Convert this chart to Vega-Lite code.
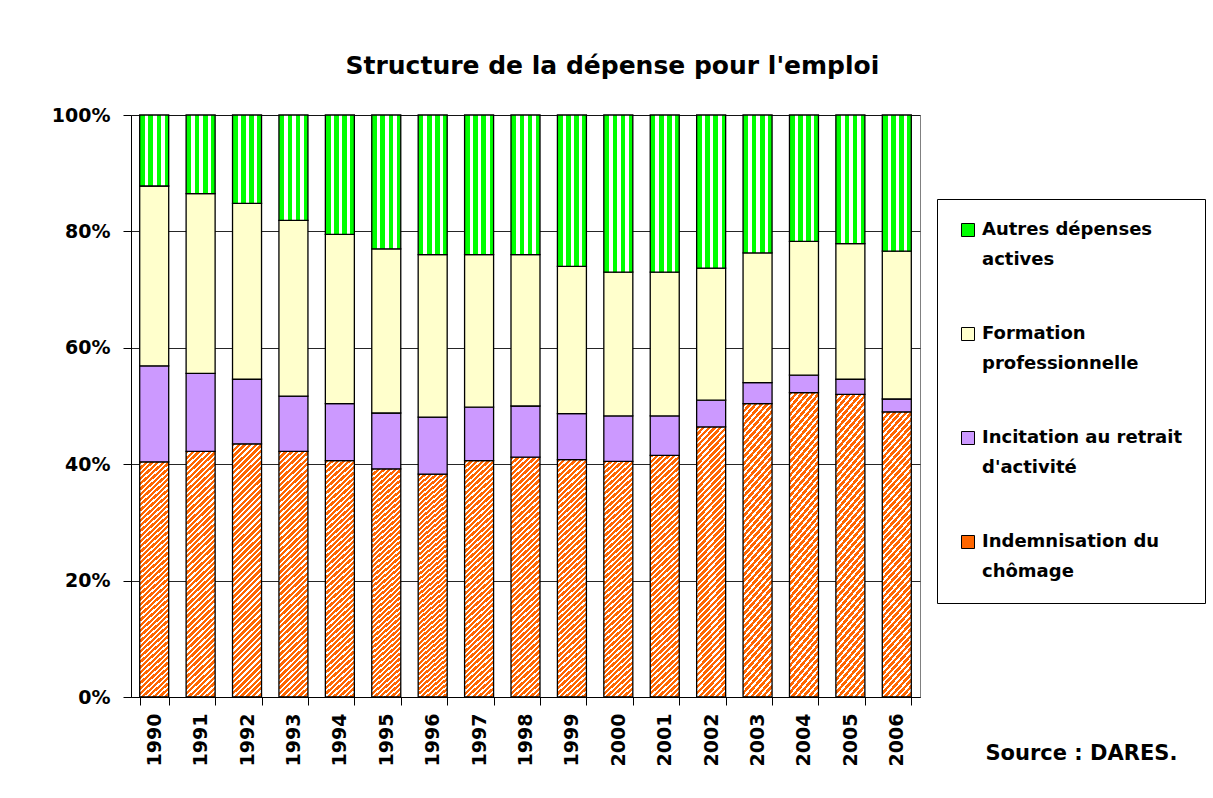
{
  "$schema": "https://vega.github.io/schema/vega-lite/v6.json",
  "width": 789,
  "height": 582,
  "padding": {"left": 51, "top": 54, "right": 5, "bottom": 5},
  "background": "white",
  "title": {
    "text": "Structure de la dépense pour l'emploi",
    "font": "DejaVu Sans",
    "fontSize": 25,
    "fontWeight": "bold",
    "color": "#000",
    "anchor": "middle",
    "frame": "bounds",
    "dx": -16,
    "offset": 27
  },
  "config": {
    "view": {"stroke": "#808080", "strokeWidth": 1},
    "axis": {"labelFont": "DejaVu Sans", "labelFontWeight": "bold", "labelColor": "#000", "domainColor": "#000", "tickColor": "#000", "domainWidth": 1, "tickWidth": 1}
  },
  "data": {
    "values": [
      {"year": "1990", "cat": "Indemnisation du chômage", "v": 40.4},
      {"year": "1990", "cat": "Incitation au retrait d'activité", "v": 16.5},
      {"year": "1990", "cat": "Formation professionnelle", "v": 30.9},
      {"year": "1990", "cat": "Autres dépenses actives", "v": 12.2},
      {"year": "1991", "cat": "Indemnisation du chômage", "v": 42.2},
      {"year": "1991", "cat": "Incitation au retrait d'activité", "v": 13.4},
      {"year": "1991", "cat": "Formation professionnelle", "v": 30.9},
      {"year": "1991", "cat": "Autres dépenses actives", "v": 13.5},
      {"year": "1992", "cat": "Indemnisation du chômage", "v": 43.5},
      {"year": "1992", "cat": "Incitation au retrait d'activité", "v": 11.1},
      {"year": "1992", "cat": "Formation professionnelle", "v": 30.2},
      {"year": "1992", "cat": "Autres dépenses actives", "v": 15.2},
      {"year": "1993", "cat": "Indemnisation du chômage", "v": 42.2},
      {"year": "1993", "cat": "Incitation au retrait d'activité", "v": 9.5},
      {"year": "1993", "cat": "Formation professionnelle", "v": 30.2},
      {"year": "1993", "cat": "Autres dépenses actives", "v": 18.1},
      {"year": "1994", "cat": "Indemnisation du chômage", "v": 40.6},
      {"year": "1994", "cat": "Incitation au retrait d'activité", "v": 9.8},
      {"year": "1994", "cat": "Formation professionnelle", "v": 29.1},
      {"year": "1994", "cat": "Autres dépenses actives", "v": 20.5},
      {"year": "1995", "cat": "Indemnisation du chômage", "v": 39.2},
      {"year": "1995", "cat": "Incitation au retrait d'activité", "v": 9.6},
      {"year": "1995", "cat": "Formation professionnelle", "v": 28.2},
      {"year": "1995", "cat": "Autres dépenses actives", "v": 23.0},
      {"year": "1996", "cat": "Indemnisation du chômage", "v": 38.3},
      {"year": "1996", "cat": "Incitation au retrait d'activité", "v": 9.8},
      {"year": "1996", "cat": "Formation professionnelle", "v": 27.9},
      {"year": "1996", "cat": "Autres dépenses actives", "v": 24.0},
      {"year": "1997", "cat": "Indemnisation du chômage", "v": 40.6},
      {"year": "1997", "cat": "Incitation au retrait d'activité", "v": 9.2},
      {"year": "1997", "cat": "Formation professionnelle", "v": 26.2},
      {"year": "1997", "cat": "Autres dépenses actives", "v": 24.0},
      {"year": "1998", "cat": "Indemnisation du chômage", "v": 41.2},
      {"year": "1998", "cat": "Incitation au retrait d'activité", "v": 8.8},
      {"year": "1998", "cat": "Formation professionnelle", "v": 26.0},
      {"year": "1998", "cat": "Autres dépenses actives", "v": 24.0},
      {"year": "1999", "cat": "Indemnisation du chômage", "v": 40.8},
      {"year": "1999", "cat": "Incitation au retrait d'activité", "v": 7.9},
      {"year": "1999", "cat": "Formation professionnelle", "v": 25.3},
      {"year": "1999", "cat": "Autres dépenses actives", "v": 26.0},
      {"year": "2000", "cat": "Indemnisation du chômage", "v": 40.5},
      {"year": "2000", "cat": "Incitation au retrait d'activité", "v": 7.8},
      {"year": "2000", "cat": "Formation professionnelle", "v": 24.7},
      {"year": "2000", "cat": "Autres dépenses actives", "v": 27.0},
      {"year": "2001", "cat": "Indemnisation du chômage", "v": 41.5},
      {"year": "2001", "cat": "Incitation au retrait d'activité", "v": 6.8},
      {"year": "2001", "cat": "Formation professionnelle", "v": 24.7},
      {"year": "2001", "cat": "Autres dépenses actives", "v": 27.0},
      {"year": "2002", "cat": "Indemnisation du chômage", "v": 46.4},
      {"year": "2002", "cat": "Incitation au retrait d'activité", "v": 4.6},
      {"year": "2002", "cat": "Formation professionnelle", "v": 22.7},
      {"year": "2002", "cat": "Autres dépenses actives", "v": 26.3},
      {"year": "2003", "cat": "Indemnisation du chômage", "v": 50.4},
      {"year": "2003", "cat": "Incitation au retrait d'activité", "v": 3.6},
      {"year": "2003", "cat": "Formation professionnelle", "v": 22.3},
      {"year": "2003", "cat": "Autres dépenses actives", "v": 23.7},
      {"year": "2004", "cat": "Indemnisation du chômage", "v": 52.3},
      {"year": "2004", "cat": "Incitation au retrait d'activité", "v": 3.0},
      {"year": "2004", "cat": "Formation professionnelle", "v": 23.0},
      {"year": "2004", "cat": "Autres dépenses actives", "v": 21.7},
      {"year": "2005", "cat": "Indemnisation du chômage", "v": 52.0},
      {"year": "2005", "cat": "Incitation au retrait d'activité", "v": 2.6},
      {"year": "2005", "cat": "Formation professionnelle", "v": 23.3},
      {"year": "2005", "cat": "Autres dépenses actives", "v": 22.1},
      {"year": "2006", "cat": "Indemnisation du chômage", "v": 49.0},
      {"year": "2006", "cat": "Incitation au retrait d'activité", "v": 2.2},
      {"year": "2006", "cat": "Formation professionnelle", "v": 25.4},
      {"year": "2006", "cat": "Autres dépenses actives", "v": 23.4}
    ]
  },
  "mark": {"type": "bar", "stroke": "#000", "strokeWidth": 1.3},
  "encoding": {
    "x": {
      "field": "year",
      "type": "ordinal",
      "scale": {"paddingInner": 0.375, "paddingOuter": 0.1875},
      "axis": {
        "labelAngle": -90,
        "labelFontSize": 19,
        "labelPadding": 8,
        "tickSize": 8,
        "tickBand": "extent",
        "title": "Source : DARES.",
        "titleX": 854,
        "titleY": 62,
        "titleAlign": "left",
        "titleAnchor": "start",
        "titleBaseline": "alphabetic",
        "titleFont": "DejaVu Sans",
        "titleFontSize": 21,
        "titleFontWeight": "bold",
        "titleColor": "#000"
      }
    },
    "y": {
      "field": "v",
      "type": "quantitative",
      "stack": "normalize",
      "scale": {"domain": [0, 1], "nice": false},
      "axis": {
        "values": [0, 0.2, 0.4, 0.6, 0.8, 1],
        "format": ".0%",
        "title": null,
        "grid": true,
        "gridColor": "#000",
        "gridOpacity": 0.85,
        "tickSize": 8,
        "labelFontSize": 19,
        "labelPadding": 13
      }
    },
    "order": {"field": "cat", "sort": "descending"},
    "fill": {
      "field": "cat",
      "type": "nominal",
      "scale": {
        "domain": ["Autres dépenses actives", "Formation professionnelle", "Incitation au retrait d'activité", "Indemnisation du chômage"],
        "range": ["#00ff00", "#ffffcc", "#cc99ff", "#ff6600"]
      },
      "legend": {
        "title": null,
        "orient": "none",
        "legendX": 806,
        "legendY": 84,
        "strokeColor": "#000",
        "fillColor": "#fff",
        "padding": 22,
        "symbolType": "square",
        "symbolSize": 169,
        "symbolStrokeColor": "#000",
        "symbolStrokeWidth": 1,
        "labelFont": "DejaVu Sans",
        "labelFontWeight": "bold",
        "labelFontSize": 18,
        "labelColor": "#000",
        "labelLimit": 400,
        "labelOffset": 5,
        "labelBaseline": "middle",
        "rowPadding": 56,
        "encode": {"labels": {"update": {"lineHeight": {"value": 30}}}},
        "labelExpr": "datum.label == 'Autres dépenses actives' ? ['Autres dépenses', 'actives'] : datum.label == 'Formation professionnelle' ? ['Formation', 'professionnelle'] : datum.label == \"Incitation au retrait d'activité\" ? ['Incitation au retrait', \"d'activité\"] : ['Indemnisation du', 'chômage']"
      },
      "condition": [
        {
          "test": "datum.cat === 'Indemnisation du chômage'",
          "value": {
            "gradient": "linear", "x1": 0, "y1": 0, "x2": 0.125, "y2": 1.1,
            "stops": [
              {"offset": 0, "color": "#f60"}, {"offset": 0.012, "color": "#f60"}, {"offset": 0.012, "color": "#fff"}, {"offset": 0.02, "color": "#fff"},
              {"offset": 0.02, "color": "#f60"}, {"offset": 0.032, "color": "#f60"}, {"offset": 0.032, "color": "#fff"}, {"offset": 0.04, "color": "#fff"},
              {"offset": 0.04, "color": "#f60"}, {"offset": 0.052, "color": "#f60"}, {"offset": 0.052, "color": "#fff"}, {"offset": 0.06, "color": "#fff"},
              {"offset": 0.06, "color": "#f60"}, {"offset": 0.072, "color": "#f60"}, {"offset": 0.072, "color": "#fff"}, {"offset": 0.08, "color": "#fff"},
              {"offset": 0.08, "color": "#f60"}, {"offset": 0.092, "color": "#f60"}, {"offset": 0.092, "color": "#fff"}, {"offset": 0.1, "color": "#fff"},
              {"offset": 0.1, "color": "#f60"}, {"offset": 0.112, "color": "#f60"}, {"offset": 0.112, "color": "#fff"}, {"offset": 0.12, "color": "#fff"},
              {"offset": 0.12, "color": "#f60"}, {"offset": 0.132, "color": "#f60"}, {"offset": 0.132, "color": "#fff"}, {"offset": 0.14, "color": "#fff"},
              {"offset": 0.14, "color": "#f60"}, {"offset": 0.152, "color": "#f60"}, {"offset": 0.152, "color": "#fff"}, {"offset": 0.16, "color": "#fff"},
              {"offset": 0.16, "color": "#f60"}, {"offset": 0.172, "color": "#f60"}, {"offset": 0.172, "color": "#fff"}, {"offset": 0.18, "color": "#fff"},
              {"offset": 0.18, "color": "#f60"}, {"offset": 0.192, "color": "#f60"}, {"offset": 0.192, "color": "#fff"}, {"offset": 0.2, "color": "#fff"},
              {"offset": 0.2, "color": "#f60"}, {"offset": 0.212, "color": "#f60"}, {"offset": 0.212, "color": "#fff"}, {"offset": 0.22, "color": "#fff"},
              {"offset": 0.22, "color": "#f60"}, {"offset": 0.232, "color": "#f60"}, {"offset": 0.232, "color": "#fff"}, {"offset": 0.24, "color": "#fff"},
              {"offset": 0.24, "color": "#f60"}, {"offset": 0.252, "color": "#f60"}, {"offset": 0.252, "color": "#fff"}, {"offset": 0.26, "color": "#fff"},
              {"offset": 0.26, "color": "#f60"}, {"offset": 0.272, "color": "#f60"}, {"offset": 0.272, "color": "#fff"}, {"offset": 0.28, "color": "#fff"},
              {"offset": 0.28, "color": "#f60"}, {"offset": 0.292, "color": "#f60"}, {"offset": 0.292, "color": "#fff"}, {"offset": 0.3, "color": "#fff"},
              {"offset": 0.3, "color": "#f60"}, {"offset": 0.312, "color": "#f60"}, {"offset": 0.312, "color": "#fff"}, {"offset": 0.32, "color": "#fff"},
              {"offset": 0.32, "color": "#f60"}, {"offset": 0.332, "color": "#f60"}, {"offset": 0.332, "color": "#fff"}, {"offset": 0.34, "color": "#fff"},
              {"offset": 0.34, "color": "#f60"}, {"offset": 0.352, "color": "#f60"}, {"offset": 0.352, "color": "#fff"}, {"offset": 0.36, "color": "#fff"},
              {"offset": 0.36, "color": "#f60"}, {"offset": 0.372, "color": "#f60"}, {"offset": 0.372, "color": "#fff"}, {"offset": 0.38, "color": "#fff"},
              {"offset": 0.38, "color": "#f60"}, {"offset": 0.392, "color": "#f60"}, {"offset": 0.392, "color": "#fff"}, {"offset": 0.4, "color": "#fff"},
              {"offset": 0.4, "color": "#f60"}, {"offset": 0.412, "color": "#f60"}, {"offset": 0.412, "color": "#fff"}, {"offset": 0.42, "color": "#fff"},
              {"offset": 0.42, "color": "#f60"}, {"offset": 0.432, "color": "#f60"}, {"offset": 0.432, "color": "#fff"}, {"offset": 0.44, "color": "#fff"},
              {"offset": 0.44, "color": "#f60"}, {"offset": 0.452, "color": "#f60"}, {"offset": 0.452, "color": "#fff"}, {"offset": 0.46, "color": "#fff"},
              {"offset": 0.46, "color": "#f60"}, {"offset": 0.472, "color": "#f60"}, {"offset": 0.472, "color": "#fff"}, {"offset": 0.48, "color": "#fff"},
              {"offset": 0.48, "color": "#f60"}, {"offset": 0.492, "color": "#f60"}, {"offset": 0.492, "color": "#fff"}, {"offset": 0.5, "color": "#fff"},
              {"offset": 0.5, "color": "#f60"}, {"offset": 0.512, "color": "#f60"}, {"offset": 0.512, "color": "#fff"}, {"offset": 0.52, "color": "#fff"},
              {"offset": 0.52, "color": "#f60"}, {"offset": 0.532, "color": "#f60"}, {"offset": 0.532, "color": "#fff"}, {"offset": 0.54, "color": "#fff"},
              {"offset": 0.54, "color": "#f60"}, {"offset": 0.552, "color": "#f60"}, {"offset": 0.552, "color": "#fff"}, {"offset": 0.56, "color": "#fff"},
              {"offset": 0.56, "color": "#f60"}, {"offset": 0.572, "color": "#f60"}, {"offset": 0.572, "color": "#fff"}, {"offset": 0.58, "color": "#fff"},
              {"offset": 0.58, "color": "#f60"}, {"offset": 0.592, "color": "#f60"}, {"offset": 0.592, "color": "#fff"}, {"offset": 0.6, "color": "#fff"},
              {"offset": 0.6, "color": "#f60"}, {"offset": 0.612, "color": "#f60"}, {"offset": 0.612, "color": "#fff"}, {"offset": 0.62, "color": "#fff"},
              {"offset": 0.62, "color": "#f60"}, {"offset": 0.632, "color": "#f60"}, {"offset": 0.632, "color": "#fff"}, {"offset": 0.64, "color": "#fff"},
              {"offset": 0.64, "color": "#f60"}, {"offset": 0.652, "color": "#f60"}, {"offset": 0.652, "color": "#fff"}, {"offset": 0.66, "color": "#fff"},
              {"offset": 0.66, "color": "#f60"}, {"offset": 0.672, "color": "#f60"}, {"offset": 0.672, "color": "#fff"}, {"offset": 0.68, "color": "#fff"},
              {"offset": 0.68, "color": "#f60"}, {"offset": 0.692, "color": "#f60"}, {"offset": 0.692, "color": "#fff"}, {"offset": 0.7, "color": "#fff"},
              {"offset": 0.7, "color": "#f60"}, {"offset": 0.712, "color": "#f60"}, {"offset": 0.712, "color": "#fff"}, {"offset": 0.72, "color": "#fff"},
              {"offset": 0.72, "color": "#f60"}, {"offset": 0.732, "color": "#f60"}, {"offset": 0.732, "color": "#fff"}, {"offset": 0.74, "color": "#fff"},
              {"offset": 0.74, "color": "#f60"}, {"offset": 0.752, "color": "#f60"}, {"offset": 0.752, "color": "#fff"}, {"offset": 0.76, "color": "#fff"},
              {"offset": 0.76, "color": "#f60"}, {"offset": 0.772, "color": "#f60"}, {"offset": 0.772, "color": "#fff"}, {"offset": 0.78, "color": "#fff"},
              {"offset": 0.78, "color": "#f60"}, {"offset": 0.792, "color": "#f60"}, {"offset": 0.792, "color": "#fff"}, {"offset": 0.8, "color": "#fff"},
              {"offset": 0.8, "color": "#f60"}, {"offset": 0.812, "color": "#f60"}, {"offset": 0.812, "color": "#fff"}, {"offset": 0.82, "color": "#fff"},
              {"offset": 0.82, "color": "#f60"}, {"offset": 0.832, "color": "#f60"}, {"offset": 0.832, "color": "#fff"}, {"offset": 0.84, "color": "#fff"},
              {"offset": 0.84, "color": "#f60"}, {"offset": 0.852, "color": "#f60"}, {"offset": 0.852, "color": "#fff"}, {"offset": 0.86, "color": "#fff"},
              {"offset": 0.86, "color": "#f60"}, {"offset": 0.872, "color": "#f60"}, {"offset": 0.872, "color": "#fff"}, {"offset": 0.88, "color": "#fff"},
              {"offset": 0.88, "color": "#f60"}, {"offset": 0.892, "color": "#f60"}, {"offset": 0.892, "color": "#fff"}, {"offset": 0.9, "color": "#fff"},
              {"offset": 0.9, "color": "#f60"}, {"offset": 0.912, "color": "#f60"}, {"offset": 0.912, "color": "#fff"}, {"offset": 0.92, "color": "#fff"},
              {"offset": 0.92, "color": "#f60"}, {"offset": 0.932, "color": "#f60"}, {"offset": 0.932, "color": "#fff"}, {"offset": 0.94, "color": "#fff"},
              {"offset": 0.94, "color": "#f60"}, {"offset": 0.952, "color": "#f60"}, {"offset": 0.952, "color": "#fff"}, {"offset": 0.96, "color": "#fff"},
              {"offset": 0.96, "color": "#f60"}, {"offset": 0.972, "color": "#f60"}, {"offset": 0.972, "color": "#fff"}, {"offset": 0.98, "color": "#fff"},
              {"offset": 0.98, "color": "#f60"}, {"offset": 0.992, "color": "#f60"}, {"offset": 0.992, "color": "#fff"}, {"offset": 1, "color": "#fff"}
            ]
          }
        },
        {
          "test": "datum.cat === 'Autres dépenses actives'",
          "value": {
            "gradient": "linear", "x1": 0, "y1": 0, "x2": 1, "y2": 0,
            "stops": [
              {"offset": 0, "color": "#00ff00"}, {"offset": 0.18, "color": "#00ff00"},
              {"offset": 0.18, "color": "#ffffff"}, {"offset": 0.3, "color": "#ffffff"},
              {"offset": 0.3, "color": "#00ff00"}, {"offset": 0.46, "color": "#00ff00"},
              {"offset": 0.46, "color": "#ffffff"}, {"offset": 0.58, "color": "#ffffff"},
              {"offset": 0.58, "color": "#00ff00"}, {"offset": 0.74, "color": "#00ff00"},
              {"offset": 0.74, "color": "#ffffff"}, {"offset": 0.86, "color": "#ffffff"},
              {"offset": 0.86, "color": "#00ff00"}, {"offset": 1, "color": "#00ff00"}
            ]
          }
        }
      ]
    }
  }
}
